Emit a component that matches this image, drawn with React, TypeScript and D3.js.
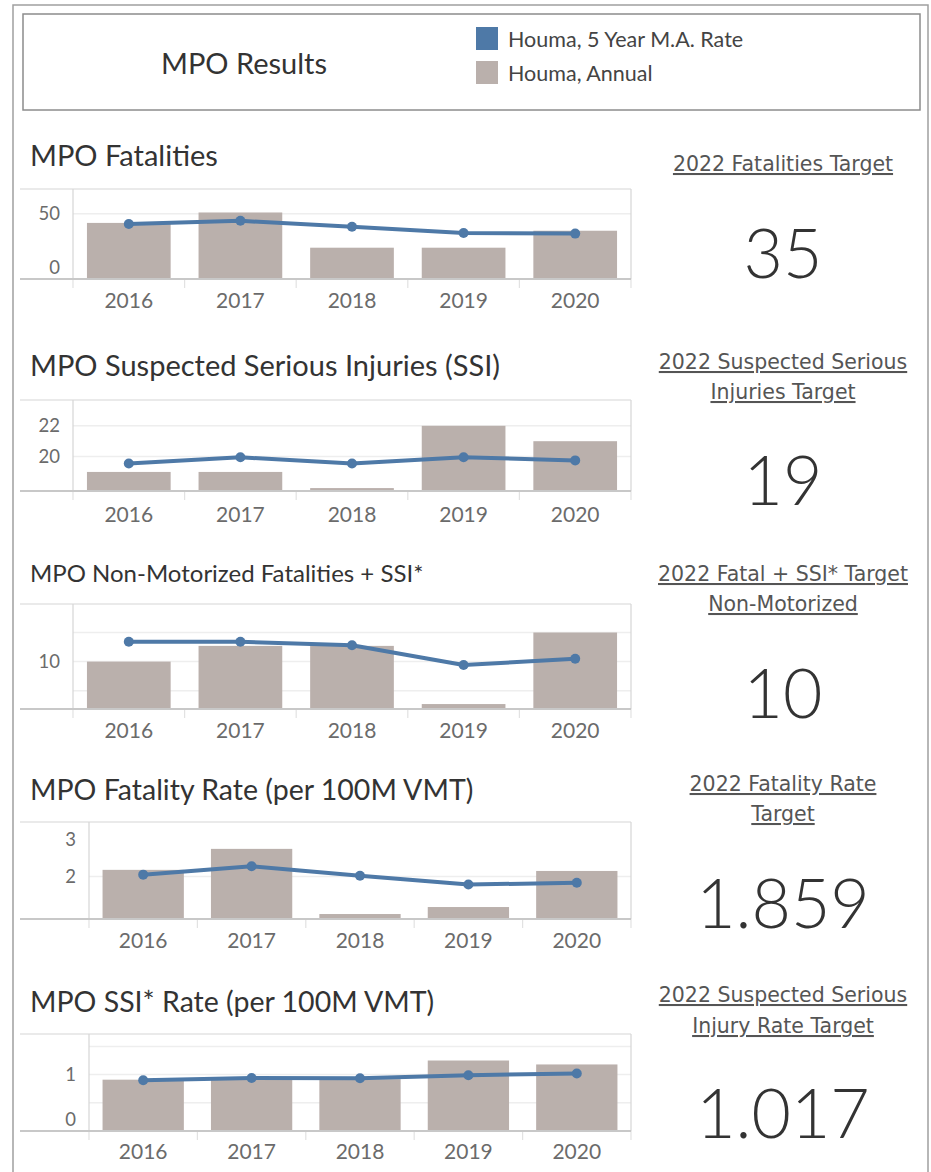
import React, { useEffect, useRef } from 'react';
import * as d3 from 'd3';

const years = ['2016', '2017', '2018', '2019', '2020'];

const fatalAnnual = [43, 51, 24, 24, 37];
const fatalMA = [42.2, 44.6, 40.0, 35.2, 34.8];

const ssiAnnual = [19, 19, 17.95, 22, 21];
const ssiMA = [19.55, 19.95, 19.55, 19.95, 19.75];

const nonMotorAnnual = [10, 12.7, 12.7, 2.7, 15];
const nonMotorMA = [13.4, 13.4, 12.8, 9.4, 10.5];

const fatalRateAnnual = [2.18, 2.75, 0.98, 1.17, 2.15];
const fatalRateMA = [2.05, 2.28, 2.02, 1.78, 1.83];

const ssiRateAnnual = [0.91, 0.94, 0.92, 1.25, 1.18];
const ssiRateMA = [0.9, 0.94, 0.935, 0.99, 1.02];

const legendLabels = ['Houma, 5 Year M.A. Rate', 'Houma, Annual'];

const titles = [
  'MPO Fatalities',
  'MPO Suspected Serious Injuries (SSI)',
  'MPO Non-Motorized Fatalities + SSI*',
  'MPO Fatality Rate (per 100M VMT)',
  'MPO SSI* Rate (per 100M VMT)',
];

const targetLabels = [
  ['2022 Fatalities Target'],
  ['2022 Suspected Serious', 'Injuries Target'],
  ['2022 Fatal + SSI* Target', 'Non-Motorized'],
  ['2022 Fatality Rate', 'Target'],
  ['2022 Suspected Serious', 'Injury Rate Target'],
];
const targetValues = ['35', '19', '10', '1.859', '1.017'];

const panels = [
  { annual: fatalAnnual, ma: fatalMA, domain: [0, 69], grid: [50], ticks: [0, 50] },
  { annual: ssiAnnual, ma: ssiMA, domain: [17.76, 23.68], grid: [20, 22], ticks: [20, 22] },
  { annual: nonMotorAnnual, ma: nonMotorMA, domain: [1.85, 19.9], grid: [5, 10, 15], ticks: [10] },
  { annual: fatalRateAnnual, ma: fatalRateMA, domain: [0.845, 3.48], grid: [2], ticks: [2, 3] },
  { annual: ssiRateAnnual, ma: ssiRateMA, domain: [0, 1.72], grid: [0.5, 1, 1.5], ticks: [0, 1] },
];

// where each block sits on the page
const layout = [
  { titleY: 166, titleSize: 29, top: 189, bottom: 279, left: 73, yearY: 308, labelY: [171], numY: 278 },
  { titleY: 376, titleSize: 29, top: 400, bottom: 491, left: 73, yearY: 522, labelY: [369, 399], numY: 505 },
  { titleY: 582, titleSize: 24, top: 604, bottom: 709, left: 73, yearY: 738, labelY: [581, 611], numY: 718 },
  { titleY: 800, titleSize: 28.5, top: 822, bottom: 919, left: 89, yearY: 948, labelY: [791, 821], numY: 928 },
  { titleY: 1012, titleSize: 28.5, top: 1034, bottom: 1131, left: 89, yearY: 1159, labelY: [1002, 1033], numY: 1138 },
];

const BLUE = '#4e79a7';
const GRAY = '#bab0ac';
const FONT = 'Lato, "Open Sans", sans-serif';
const TARGET_FONT = '"DejaVu Sans", sans-serif';
const RIGHT = 631;

const App = () => {
  const svgRef = useRef<SVGSVGElement>(null);

  useEffect(() => {
    const svg = d3.select(svgRef.current);
    svg.selectAll('*').remove();
    svg.attr('font-family', FONT);

    // outer dashboard border
    svg.append('path')
      .attr('d', 'M13,1172 V5 H928 V1172')
      .attr('fill', 'none')
      .attr('stroke', '#a0a0a0')
      .attr('stroke-width', 1.5);

    // header box
    svg.append('rect')
      .attr('x', 23).attr('y', 14).attr('width', 897).attr('height', 96)
      .attr('fill', 'none').attr('stroke', '#8c8c8c').attr('stroke-width', 1.5);

    svg.append('text')
      .attr('x', 244).attr('y', 74)
      .attr('text-anchor', 'middle')
      .attr('font-size', 29)
      .attr('fill', '#333')
      .text('MPO Results');

    const legendColors = [BLUE, GRAY];
    legendLabels.forEach((label, i) => {
      const ly = 27 + i * 34;
      svg.append('rect').attr('x', 476).attr('y', ly).attr('width', 22).attr('height', 23)
        .attr('fill', legendColors[i]);
      svg.append('text').attr('x', 508).attr('y', ly + 20)
        .attr('font-size', 21.5).attr('fill', '#444').text(label);
    });

    panels.forEach((p, i) => {
      const L = layout[i];
      const g = svg.append('g');

      const x = d3.scaleBand()
        .domain(years)
        .range([L.left, RIGHT])
        .paddingInner(0.25)
        .paddingOuter(0.125);
      const y = d3.scaleLinear().domain(p.domain).range([L.bottom, L.top]);

      // title
      g.append('text')
        .attr('x', 30).attr('y', L.titleY)
        .attr('font-size', L.titleSize)
        .attr('fill', '#333')
        .text(titles[i]);

      // gridlines
      g.selectAll('.grid').data(p.grid).enter().append('line')
        .attr('x1', L.left).attr('x2', RIGHT)
        .attr('y1', (d) => y(d)).attr('y2', (d) => y(d))
        .attr('stroke', '#eeeeee').attr('stroke-width', 1.5);

      // bars (annual)
      g.selectAll('.bar').data(p.annual).enter().append('rect')
        .attr('x', (d, j) => x(years[j]) as number)
        .attr('width', x.bandwidth())
        .attr('y', (d) => y(d))
        .attr('height', (d) => Math.max(0, L.bottom - y(d)))
        .attr('fill', GRAY);

      // frame
      g.append('line').attr('x1', 20).attr('x2', RIGHT).attr('y1', L.top).attr('y2', L.top)
        .attr('stroke', '#d6d6d6').attr('stroke-width', 1.2);
      g.append('line').attr('x1', L.left).attr('x2', L.left).attr('y1', L.top).attr('y2', L.bottom)
        .attr('stroke', '#d6d6d6').attr('stroke-width', 1.2);
      g.append('line').attr('x1', RIGHT).attr('x2', RIGHT).attr('y1', L.top).attr('y2', L.bottom)
        .attr('stroke', '#d6d6d6').attr('stroke-width', 1.2);

      // band separators under the axis
      const edges = years.map((yr) => (x(yr) as number) - x.step() * 0.125).concat([RIGHT]);
      g.selectAll('.sep').data(edges).enter().append('line')
        .attr('x1', (d) => d).attr('x2', (d) => d)
        .attr('y1', L.bottom).attr('y2', L.bottom + 9)
        .attr('stroke', '#e2e2e2').attr('stroke-width', 1.2);

      g.append('line').attr('x1', 20).attr('x2', RIGHT).attr('y1', L.bottom).attr('y2', L.bottom)
        .attr('stroke', '#c8c8c8').attr('stroke-width', 2);

      // 5 year moving average
      const line = d3.line<number>()
        .x((d, j) => (x(years[j]) as number) + x.bandwidth() / 2)
        .y((d) => y(d));
      g.append('path').datum(p.ma)
        .attr('d', line)
        .attr('fill', 'none')
        .attr('stroke', BLUE)
        .attr('stroke-width', 4)
        .attr('stroke-linejoin', 'round');
      g.selectAll('.dot').data(p.ma).enter().append('circle')
        .attr('cx', (d, j) => (x(years[j]) as number) + x.bandwidth() / 2)
        .attr('cy', (d) => y(d))
        .attr('r', 5)
        .attr('fill', BLUE);

      // y labels
      g.selectAll('.ylab').data(p.ticks).enter().append('text')
        .attr('x', L.left - 13)
        .attr('y', (d) => Math.min(y(d), L.bottom - 12) + 6.5)
        .attr('text-anchor', 'end')
        .attr('font-size', 18.5)
        .attr('fill', '#6b6b6b')
        .text((d) => d3.format('~g')(d));

      // year labels
      g.selectAll('.xlab').data(years).enter().append('text')
        .attr('x', (d) => (x(d) as number) + x.bandwidth() / 2)
        .attr('y', L.yearY)
        .attr('text-anchor', 'middle')
        .attr('font-size', 21)
        .attr('fill', '#6b6b6b')
        .text((d) => d);

      // target on the right
      targetLabels[i].forEach((t, k) => {
        svg.append('text')
          .attr('x', 783).attr('y', L.labelY[k])
          .attr('text-anchor', 'middle')
          .attr('font-family', TARGET_FONT)
          .attr('font-size', 20.5)
          .attr('fill', '#555')
          .attr('text-decoration', 'underline')
          .text(t);
      });
      svg.append('text')
        .attr('x', 783).attr('y', L.numY)
        .attr('text-anchor', 'middle')
        .attr('font-size', 68)
        .attr('font-weight', 300)
        .attr('fill', '#333')
        .text(targetValues[i]);
    });
  }, []);

  return (
    <div className="mpo-results">
      <svg
        ref={svgRef}
        width={931}
        height={1172}
        style={{ position: 'absolute', left: 0, top: 0, background: '#fff' }}
      ></svg>
    </div>
  );
};

export default App;
